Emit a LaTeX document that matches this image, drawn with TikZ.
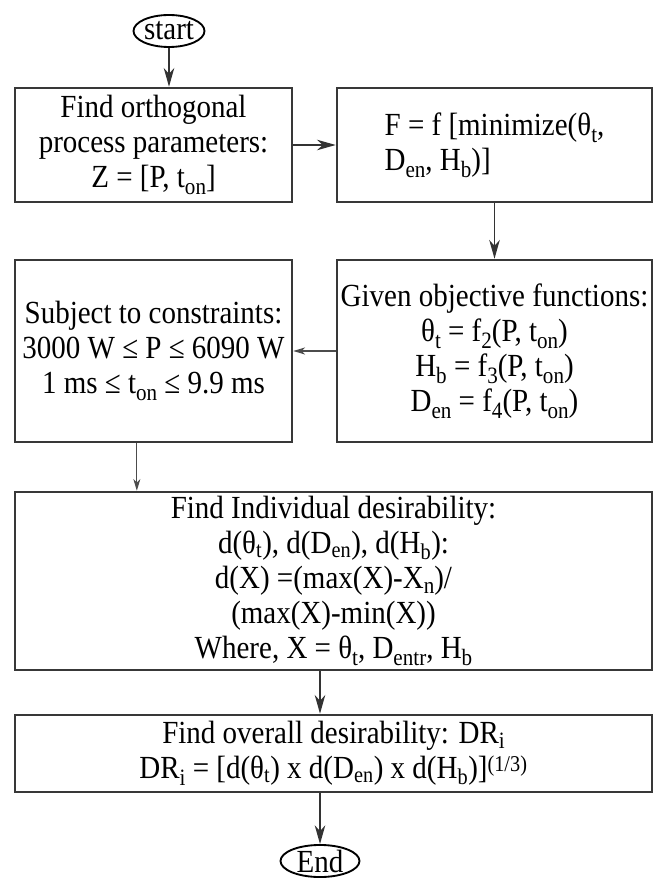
\documentclass[tikz,border=0pt]{standalone}
\usepackage{fontspec}
\setmainfont{Liberation Serif}[FakeStretch=0.9]
\usetikzlibrary{shapes.geometric,arrows.meta}

% lowered subscript in the size used in the boxes
\newcommand{\lo}[1]{\raisebox{-0.22em}{\fontsize{20}{20}\selectfont #1}}

\begin{document}
\begin{tikzpicture}[x=0.03cm,y=-0.03cm,
    font=\fontsize{27.5}{29.8}\selectfont,
    >={Stealth[length=16pt,width=9pt,inset=5pt]},
    box/.style={draw=black!78, line width=2.2pt, inner sep=0pt, align=center},
    term/.style={draw, ellipse, line width=1.6pt, inner sep=0pt},
    arr/.style={->, line width=1.1pt, draw=black!80},
    thinarr/.style={-{Stealth[length=10pt,width=6pt,inset=3pt]}, line width=0.9pt, draw=black!70}]

    \useasboundingbox (0,0) rectangle (654,878);

    \node[term, minimum width=2.13cm, minimum height=0.96cm] (start) at (169,31) {start};

    \node[box, minimum width=8.31cm, minimum height=3.42cm] (orth) at (153.5,145)
        {Find orthogonal\\process parameters:\\Z = [P, t\lo{on}]};
    \node[box, align=left, minimum width=9.45cm, minimum height=3.42cm] (fmin) at (494.5,145)
        {F = f [minimize(θ\lo{t},\\D\lo{en}, H\lo{b})]};

    \node[box, minimum width=8.31cm, minimum height=5.46cm] (cons) at (153.5,351)
        {Subject to constraints:\\3000 W ≤ P ≤ 6090 W\\1 ms ≤ t\lo{on} ≤ 9.9 ms};
    \node[box, minimum width=9.45cm, minimum height=5.46cm] (obj) at (494.5,351)
        {Given objective functions:\\θ\lo{t} = f\lo{2}(P, t\lo{on})\\H\lo{b} = f\lo{3}(P, t\lo{on})\\D\lo{en} = f\lo{4}(P, t\lo{on})};

    \node[box, minimum width=19.11cm, minimum height=5.34cm] (indiv) at (333.5,581)
        {Find Individual desirability:\\
         d(θ\textsubscript{t}), d(D\textsubscript{en}), d(H\textsubscript{b}):\\
         d(X) =(max(X)-X\raisebox{-0.14em}{\fontsize{20}{20}\selectfont n})/\\
         (max(X)-min(X))\\
         Where, X = θ\lo{t}, D\lo{entr}, H\lo{b}};
    \node[box, minimum width=19.11cm, minimum height=2.31cm] (overall) at (333.5,753.5)
        {Find overall desirability: DR\raisebox{-0.15em}{\fontsize{20}{20}\selectfont i}\\
         DR\lo{i} = [d(θ\textsubscript{t}) x d(D\textsubscript{en}) x d(H\textsubscript{b})]\raisebox{-0.1em}{\textsuperscript{(1/3)}}};

    \node[term, minimum width=2.37cm, minimum height=0.84cm] (fin) at (320,861) {End};

    \draw[arr] (start) -- (start |- orth.north);
    \draw[arr] (orth) -- (fmin);
    \draw[arr] (fmin) -- (obj);
    \draw[thinarr] (obj) -- (cons);
    \draw[thinarr] ([xshift=-0.5cm]cons.south) -- ([xshift=-0.5cm]cons.south |- indiv.north);
    \draw[arr] (indiv.south -| fin) -- (overall.north -| fin);
    \draw[arr] (overall.south -| fin) -- (fin);
\end{tikzpicture}
\end{document}
